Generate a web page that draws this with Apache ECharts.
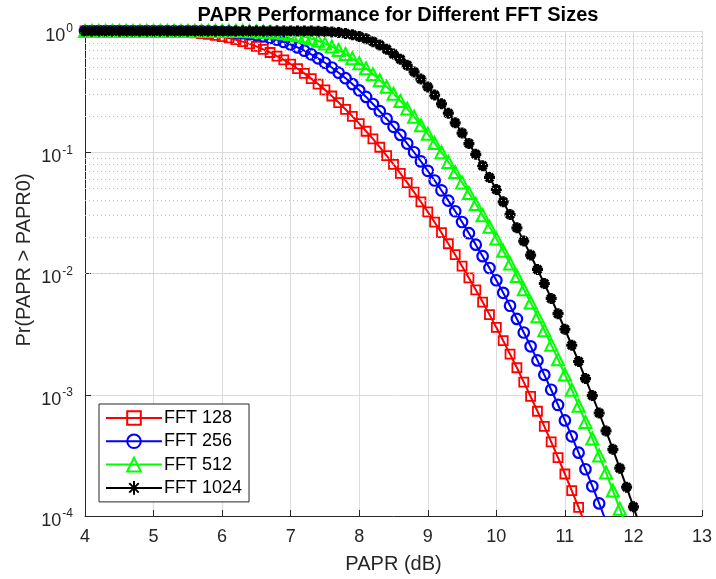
<!DOCTYPE html>
<html>
<head>
<meta charset="utf-8">
<title>PAPR Performance for Different FFT Sizes</title>
<script src="https://cdn.jsdelivr.net/npm/echarts@6/dist/echarts.min.js"></script>
<style>
  html, body { margin: 0; padding: 0; background: #fff; }
  #chart { width: 716px; height: 579px; }
</style>
</head>
<body>
<div id="chart"></div>
<script>
// PAPR threshold (dB), one point every 0.1 dB
var papr = [
  4.0, 4.1, 4.2, 4.3, 4.4, 4.5, 4.6, 4.7, 4.8, 4.9,
  5.0, 5.1, 5.2, 5.3, 5.4, 5.5, 5.6, 5.7, 5.8, 5.9,
  6.0, 6.1, 6.2, 6.3, 6.4, 6.5, 6.6, 6.7, 6.8, 6.9,
  7.0, 7.1, 7.2, 7.3, 7.4, 7.5, 7.6, 7.7, 7.8, 7.9,
  8.0, 8.1, 8.2, 8.3, 8.4, 8.5, 8.6, 8.7, 8.8, 8.9,
  9.0, 9.1, 9.2, 9.3, 9.4, 9.5, 9.6, 9.7, 9.8, 9.9,
  10.0, 10.1, 10.2, 10.3, 10.4, 10.5, 10.6, 10.7, 10.8, 10.9,
  11.0, 11.1, 11.2, 11.3, 11.4, 11.5, 11.6, 11.7, 11.8, 11.9,
  12.0, 12.1
];

// Pr(PAPR > PAPR0)
var fft128 = [
  1, 1, 1, 1, 1, 1, 0.999, 0.999, 0.998, 0.998,
  0.996, 0.994, 0.991, 0.987, 0.982, 0.975, 0.965, 0.954, 0.939, 0.921,
  0.900, 0.876, 0.848, 0.817, 0.783, 0.746, 0.706, 0.665, 0.621, 0.578,
  0.534, 0.490, 0.447, 0.405, 0.365, 0.327, 0.291, 0.257, 0.226, 0.198,
  0.172, 0.149, 0.129, 0.110, 0.0937, 0.0794, 0.0670, 0.0562, 0.0469, 0.0389,
  0.0322, 0.0265, 0.0217, 0.0176, 0.0143, 0.0115, 0.0092, 0.00733, 0.00581, 0.00458,
  0.00359, 0.00279, 0.00216, 0.00167, 0.00127, 0.000968, 0.000731, 0.000549, 0.000409, 0.000303,
  0.000222, 0.000162, 0.000118, 0.0000846
];

var fft256 = [
  1, 1, 1, 1, 1, 1, 1, 1, 1, 1,
  1, 1, 1, 1, 0.999, 0.999, 0.998, 0.996, 0.994, 0.991,
  0.986, 0.980, 0.971, 0.959, 0.944, 0.926, 0.903, 0.877, 0.847, 0.812,
  0.774, 0.732, 0.688, 0.642, 0.595, 0.547, 0.500, 0.453, 0.408, 0.365,
  0.324, 0.286, 0.250, 0.218, 0.189, 0.162, 0.139, 0.118, 0.100, 0.0840,
  0.0703, 0.0585, 0.0484, 0.0399, 0.0326, 0.0266, 0.0215, 0.0173, 0.0139, 0.0111,
  0.0088, 0.00693, 0.00542, 0.00422, 0.00326, 0.00251, 0.00192, 0.00146, 0.00110, 0.000824,
  0.000614, 0.000454, 0.000333, 0.000243, 0.000176, 0.000127, 0.0000903
];

var fft512 = [
  1, 1, 1, 1, 1, 1, 1, 1, 1, 1,
  1, 1, 1, 1, 1, 1, 1, 1, 1, 1,
  1, 0.999, 0.999, 0.998, 0.996, 0.993, 0.988, 0.982, 0.973, 0.960,
  0.943, 0.922, 0.896, 0.866, 0.830, 0.789, 0.745, 0.697, 0.647, 0.595,
  0.543, 0.492, 0.441, 0.393, 0.347, 0.304, 0.265, 0.229, 0.196, 0.167,
  0.142, 0.119, 0.0999, 0.0831, 0.0686, 0.0564, 0.0461, 0.0374, 0.0302, 0.0243,
  0.0194, 0.0154, 0.0121, 0.00953, 0.00742, 0.00576, 0.00443, 0.0034, 0.00259, 0.00196,
  0.00147, 0.0011, 0.000811, 0.000597, 0.000436, 0.000316, 0.000228, 0.000162, 0.000115, 0.0000809
];

var fft1024 = [
  1, 1, 1, 1, 1, 1, 1, 1, 1, 1,
  1, 1, 1, 1, 1, 1, 1, 1, 1, 1,
  1, 1, 1, 1, 1, 1, 1, 1, 1, 1,
  1, 1, 0.999, 0.998, 0.995, 0.991, 0.983, 0.972, 0.955, 0.931,
  0.900, 0.862, 0.817, 0.765, 0.707, 0.647, 0.584, 0.521, 0.460, 0.401,
  0.346, 0.296, 0.251, 0.210, 0.175, 0.144, 0.118, 0.0961, 0.0775, 0.062,
  0.0493, 0.039, 0.0306, 0.0238, 0.0185, 0.0142, 0.0108, 0.00827, 0.00623, 0.00466,
  0.00347, 0.00256, 0.00188, 0.00136, 0.000985, 0.000707, 0.000503, 0.000355, 0.000248, 0.000173,
  0.000119, 0.000081
];

var seriesNames = ['FFT 128', 'FFT 256', 'FFT 512', 'FFT 1024'];
var xTicks = [4, 5, 6, 7, 8, 9, 10, 11, 12, 13];

var FONT = '"Liberation Sans", Arial, Helvetica, sans-serif';
var AXIS_COLOR = '#262626';
var ASTERISK = 'path://M50 0L50 100M0 50L100 50M15 15L85 85M85 15L15 85';

function toPairs(values) {
  return values.map(function (v, i) { return [papr[i], v]; });
}

// dotted minor grid at 2..9 x 10^k
var minorGridY = [];
for (var k = -4; k < 0; k++) {
  for (var m = 2; m <= 9; m++) minorGridY.push({ yAxis: m * Math.pow(10, k) });
}

function curve(name, values, color, symbol, size, borderWidth) {
  return {
    name: name,
    type: 'line',
    data: toPairs(values),
    symbol: symbol,
    symbolSize: size,
    showAllSymbol: true,
    clip: true,
    lineStyle: { color: color, width: 2 },
    itemStyle: {
      color: symbol === ASTERISK ? color : 'transparent',
      borderColor: color,
      borderWidth: borderWidth
    },
    emphasis: { disabled: true },
    z: 3
  };
}

var chart = echarts.init(document.getElementById('chart'), null, { renderer: 'canvas' });

var option = {
  animation: false,
  backgroundColor: '#ffffff',
  textStyle: { fontFamily: FONT },
  title: {
    text: 'PAPR Performance for Different FFT Sizes',
    left: 393,
    textAlign: 'center',
    top: 0,
    textStyle: { fontFamily: FONT, fontSize: 20, fontWeight: 'bold', color: '#000' }
  },
  grid: { left: 85, right: 14, top: 31, bottom: 62 },
  legend: {
    data: seriesNames,
    orient: 'vertical',
    left: 99,
    top: 404,
    padding: [4, 7, 4, 6],
    itemWidth: 56,
    itemHeight: 17,
    itemGap: 3.3,
    backgroundColor: '#ffffff',
    borderColor: AXIS_COLOR,
    borderWidth: 1,
    borderRadius: 0,
    textStyle: { fontFamily: FONT, fontSize: 18, lineHeight: 20, color: '#000', padding: [0, 0, 0, -3] },
    selectedMode: false
  },
  graphic: [{
    type: 'text',
    x: 24,
    y: 260,
    rotation: Math.PI / 2,
    style: {
      text: 'Pr(PAPR > PAPR0)',
      font: '20px ' + FONT,
      fill: AXIS_COLOR,
      align: 'center',
      verticalAlign: 'middle'
    }
  }],
  xAxis: {
    type: 'value',
    min: 4,
    max: 13,
    interval: 1,
    name: 'PAPR (dB)',
    nameLocation: 'middle',
    nameGap: 38,
    nameTextStyle: { fontFamily: FONT, fontSize: 20, color: AXIS_COLOR },
    axisLine: { show: true, onZero: false, lineStyle: { color: AXIS_COLOR, width: 1 } },
    axisTick: { show: true, inside: true, length: 6, lineStyle: { color: AXIS_COLOR } },
    axisLabel: {
      margin: 12, fontSize: 18, color: AXIS_COLOR, fontFamily: FONT,
      formatter: function (v) { return xTicks.indexOf(v) >= 0 ? String(v) : ''; }
    },
    splitLine: { show: true, lineStyle: { color: '#dcdcdc', width: 1 } }
  },
  yAxis: {
    type: 'log',
    logBase: 10,
    min: 1e-4,
    max: 1,
    axisLine: { show: true, onZero: false, lineStyle: { color: AXIS_COLOR, width: 1 } },
    axisTick: { show: true, inside: true, length: 6, lineStyle: { color: AXIS_COLOR } },
    axisLabel: {
      margin: 12,
      color: AXIS_COLOR,
      fontFamily: FONT,
      formatter: function (v) {
        var e = Math.round(Math.log(v) / Math.LN10);
        return '{b|10}{e|' + e + '}';
      },
      rich: {
        b: { fontSize: 18, fontFamily: FONT, color: AXIS_COLOR, padding: [10, 0, 0, 0] },
        e: { fontSize: 12, fontFamily: FONT, color: AXIS_COLOR, padding: [0, 0, 4, 1] }
      }
    },
    splitLine: { show: true, lineStyle: { color: '#dcdcdc', width: 1 } },
    minorTick: { show: false },
    minorSplitLine: { show: false }
  },
  series: [
    {
      name: 'minor grid',
      type: 'line',
      data: [],
      silent: true,
      z: 1,
      markLine: {
        silent: true,
        symbol: ['none', 'none'],
        label: { show: false },
        animation: false,
        lineStyle: { color: '#bdbdbd', width: 1, type: [1, 3] },
        data: minorGridY
      }
    },
    curve(seriesNames[0], fft128, '#ff0000', 'rect', 9, 1.8),
    curve(seriesNames[1], fft256, '#0000ff', 'circle', 10.5, 2.2),
    curve(seriesNames[2], fft512, '#00ff00', 'triangle', 12, 2),
    curve(seriesNames[3], fft1024, '#000000', ASTERISK, 11, 3.2)
  ]
};

chart.setOption(option);
</script>
</body>
</html>
